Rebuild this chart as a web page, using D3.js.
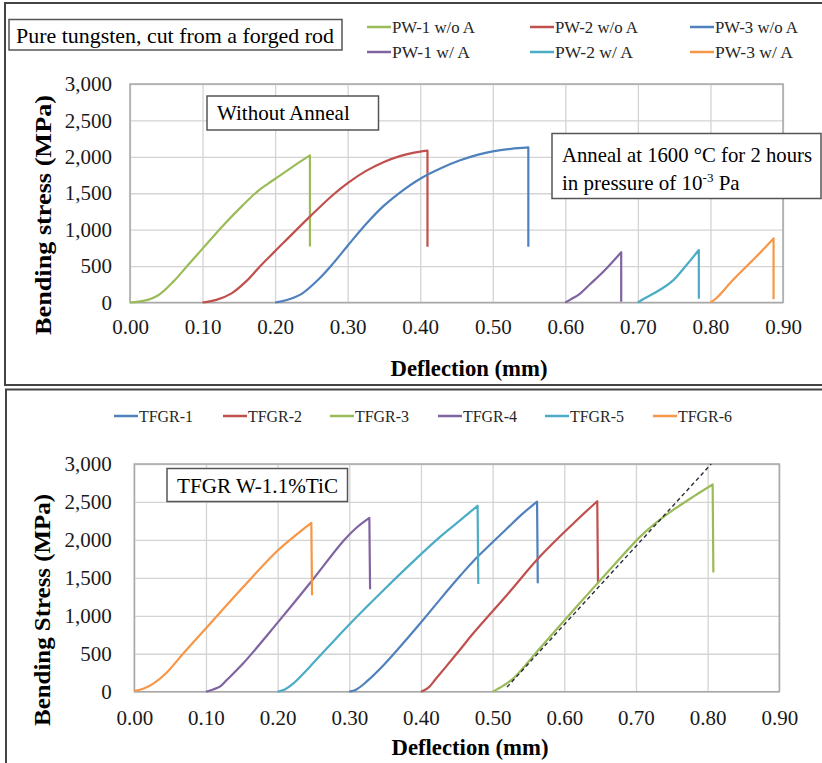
<!DOCTYPE html>
<html>
<head lang="en">
    <meta charset="UTF-8">
    <title>Bending stress vs deflection</title>
    <style>
        body { margin: 0; background: #fff; }
        svg text { font-family: "Liberation Serif", "Times New Roman", serif; }
    </style>
</head>
<body>
<div id="chart"></div>

<script src="https://cdn.jsdelivr.net/npm/d3@7"></script>
<script>
    // ---- data ----
    var xTicks = [0, 0.1, 0.2, 0.3, 0.4, 0.5, 0.6, 0.7, 0.8, 0.9];
    var yTicks = [0, 500, 1000, 1500, 2000, 2500, 3000];

    // top: pure tungsten
    var topNames = ["PW-1 w/o A", "PW-2 w/o A", "PW-3 w/o A", "PW-1 w/ A", "PW-2 w/ A", "PW-3 w/ A"];
    var pw1woDefl   = [0, 0.02, 0.039, 0.06, 0.08, 0.10, 0.131, 0.155, 0.175, 0.19, 0.204, 0.225, 0.248, 0.248];
    var pw1woStress = [0, 25, 100, 290, 514, 740, 1085, 1330, 1520, 1630, 1725, 1870, 2020, 770];
    var pw2woDefl   = [0.10, 0.12, 0.14, 0.16, 0.18, 0.20, 0.25, 0.28, 0.30, 0.326, 0.35, 0.372, 0.39, 0.410, 0.410];
    var pw2woStress = [0, 40, 126, 290, 505, 705, 1200, 1480, 1640, 1810, 1930, 2010, 2055, 2085, 765];
    var pw3woDefl   = [0.20, 0.215, 0.236, 0.26, 0.28, 0.30, 0.326, 0.35, 0.372, 0.40, 0.43, 0.455, 0.48, 0.50, 0.525, 0.549, 0.549];
    var pw3woStress = [0, 30, 115, 320, 537, 780, 1085, 1330, 1510, 1700, 1850, 1952, 2030, 2075, 2110, 2130, 765];
    var pw1wDefl    = [0.60, 0.607, 0.62, 0.634, 0.655, 0.677, 0.677];
    var pw1wStress  = [0, 40, 120, 250, 450, 690, 10];
    var pw2wDefl    = [0.70, 0.707, 0.73, 0.749, 0.765, 0.784, 0.784];
    var pw2wStress  = [0, 44, 171, 308, 490, 720, 50];
    var pw3wDefl    = [0.80, 0.808, 0.831, 0.863, 0.887, 0.887];
    var pw3wStress  = [0, 58, 308, 627, 880, 45];

    // bottom: TFGR W-1.1%TiC
    var botNames = ["TFGR-1", "TFGR-2", "TFGR-3", "TFGR-4", "TFGR-5", "TFGR-6"];
    var tfgr1Defl   = [0.30, 0.31, 0.324, 0.348, 0.399, 0.427, 0.455, 0.473, 0.52, 0.54, 0.562, 0.563];
    var tfgr1Stress = [0, 30, 132, 352, 901, 1220, 1530, 1720, 2150, 2330, 2505, 1430];
    var tfgr2Defl   = [0.40, 0.41, 0.42, 0.435, 0.455, 0.473, 0.52, 0.566, 0.613, 0.646, 0.647];
    var tfgr2Stress = [0, 50, 160, 330, 560, 770, 1275, 1780, 2220, 2510, 1430];
    var tfgr3Defl   = [0.50, 0.515, 0.529, 0.566, 0.613, 0.659, 0.706, 0.73, 0.752, 0.78, 0.807, 0.808];
    var tfgr3Stress = [0, 80, 176, 572, 1077, 1560, 2043, 2240, 2395, 2570, 2730, 1570];
    var tfgr4Defl   = [0.10, 0.11, 0.12, 0.129, 0.152, 0.20, 0.245, 0.292, 0.31, 0.328, 0.329];
    var tfgr4Stress = [0, 30, 70, 154, 374, 910, 1429, 1990, 2160, 2290, 1350];
    var tfgr5Defl   = [0.20, 0.21, 0.222, 0.245, 0.297, 0.348, 0.399, 0.427, 0.455, 0.479, 0.48];
    var tfgr5Stress = [0, 30, 110, 330, 857, 1340, 1802, 2043, 2260, 2450, 1420];
    var tfgr6Defl   = [0, 0.015, 0.027, 0.045, 0.068, 0.10, 0.15, 0.199, 0.225, 0.247, 0.248];
    var tfgr6Stress = [10, 50, 110, 250, 500, 836, 1360, 1850, 2060, 2225, 1270];
    var fitDefl     = [0.52, 0.805];
    var fitStress   = [60, 3000];

    var colors = {
        blue: "#4F81BD", red: "#C0504D", green: "#9BBB59",
        purple: "#8064A2", aqua: "#4BACC6", orange: "#F79646"
    };

    var svg = d3.select("#chart").append("svg")
        .attr("width", 822)
        .attr("height", 763);

    // panel frames
    svg.append("rect").attr("x", 5).attr("y", 3).attr("width", 840).attr("height", 382)
        .attr("fill", "none").attr("stroke", "#444").attr("stroke-width", 2);
    svg.append("rect").attr("x", 6).attr("y", 389.5).attr("width", 840).attr("height", 400)
        .attr("fill", "none").attr("stroke", "#444").attr("stroke-width", 2);

    function drawPanel(p) {
        var x = d3.scaleLinear().domain([0, 0.9]).range([p.left, p.right]);
        var y = d3.scaleLinear().domain([0, 3000]).range([p.bottom, p.top]);
        var g = svg.append("g");

        // grid
        g.append("g").attr("transform", "translate(0," + p.bottom + ")")
            .call(d3.axisBottom(x).tickValues(xTicks).tickSize(-(p.bottom - p.top)).tickFormat(""))
            .call(function(s){ s.select(".domain").remove(); })
            .selectAll("line").attr("stroke", "#d4d4d4").attr("stroke-width", 1.3);
        g.append("g").attr("transform", "translate(" + p.left + ",0)")
            .call(d3.axisLeft(y).tickValues(yTicks).tickSize(-(p.right - p.left)).tickFormat(""))
            .call(function(s){ s.select(".domain").remove(); })
            .selectAll("line").attr("stroke", "#d4d4d4").attr("stroke-width", 1.3);
        g.append("rect").attr("x", p.left).attr("y", p.top)
            .attr("width", p.right - p.left).attr("height", p.bottom - p.top)
            .attr("fill", "none").attr("stroke", "#a8a8a8").attr("stroke-width", 1.5);

        // tick labels
        var xa = g.append("g").attr("transform", "translate(0," + p.bottom + ")")
            .call(d3.axisBottom(x).tickValues(xTicks).tickSize(0).tickPadding(p.xPad).tickFormat(d3.format(".2f")));
        var ya = g.append("g").attr("transform", "translate(" + p.left + ",0)")
            .call(d3.axisLeft(y).tickValues(yTicks).tickSize(0).tickPadding(p.yPad).tickFormat(d3.format(",")));
        [xa, ya].forEach(function(a) {
            a.select(".domain").remove();
            a.selectAll("text").attr("font-family", "Liberation Serif").attr("font-size", 21).attr("fill", "#1a1a1a");
        });

        // axis titles
        g.append("text").attr("x", p.xTitleX).attr("y", p.xTitleY)
            .attr("text-anchor", "middle").attr("font-size", 23).attr("font-weight", "bold")
            .attr("textLength", 157).attr("lengthAdjust", "spacingAndGlyphs")
            .text("Deflection (mm)");
        g.append("text").attr("transform", "translate(" + p.yTitleX + "," + p.yTitleY + ") rotate(-90)")
            .attr("text-anchor", "middle").attr("dy", "0.35em").attr("font-size", 24).attr("font-weight", "bold")
            .attr("textLength", p.yTitleLen).attr("lengthAdjust", "spacingAndGlyphs")
            .text(p.yTitle);

        // series: smooth rise, straight drop at fracture
        var line = d3.line().x(function(d){ return x(d[0]); }).y(function(d){ return y(d[1]); })
            .curve(d3.curveCatmullRom.alpha(0.5));
        p.series.forEach(function(s) {
            var pts = d3.zip(s.defl, s.stress);
            var last = pts[pts.length - 1];
            g.append("path")
                .attr("d", line(pts.slice(0, -1)) + "L" + x(last[0]) + "," + y(last[1]))
                .attr("fill", "none").attr("stroke", s.color).attr("stroke-width", 2.2)
                .attr("stroke-linejoin", "round");
        });
        return {x: x, y: y, g: g};
    }

    function textBox(x0, y0, w, h) {
        svg.append("rect").attr("x", x0).attr("y", y0).attr("width", w).attr("height", h)
            .attr("fill", "#fff").attr("stroke", "#555").attr("stroke-width", 1.5);
    }

    function legendItem(x0, y0, color, label, len) {
        svg.append("line").attr("x1", x0).attr("x2", x0 + 24).attr("y1", y0).attr("y2", y0)
            .attr("stroke", color).attr("stroke-width", 2.5);
        svg.append("text").attr("x", x0 + 25).attr("y", y0).attr("dy", "0.35em")
            .attr("font-size", 16).attr("fill", "#262626")
            .attr("textLength", len).attr("lengthAdjust", "spacingAndGlyphs")
            .text(label);
    }

    // ---- top panel ----
    drawPanel({
        left: 130, right: 783, top: 84, bottom: 302.5,
        xPad: 17, yPad: 18, xTitleX: 469, xTitleY: 376,
        yTitleX: 43, yTitleY: 215, yTitleLen: 240, yTitle: "Bending stress (MPa)",
        series: [
            {defl: pw1woDefl, stress: pw1woStress, color: colors.green},
            {defl: pw2woDefl, stress: pw2woStress, color: colors.red},
            {defl: pw3woDefl, stress: pw3woStress, color: colors.blue},
            {defl: pw1wDefl, stress: pw1wStress, color: colors.purple},
            {defl: pw2wDefl, stress: pw2wStress, color: colors.aqua},
            {defl: pw3wDefl, stress: pw3wStress, color: colors.orange}
        ]
    });

    var topColors = [colors.green, colors.red, colors.blue, colors.purple, colors.aqua, colors.orange];
    var topLegX = [367, 530, 690];
    topNames.forEach(function(n, i) {
        legendItem(topLegX[i % 3], i < 3 ? 27 : 52, topColors[i], n, i < 3 ? 83 : 78);
    });

    textBox(9, 19.5, 333, 30.5);
    svg.append("text").attr("x", 16).attr("y", 42.5).attr("font-size", 21)
        .attr("textLength", 318).attr("lengthAdjust", "spacingAndGlyphs")
        .text("Pure tungsten, cut from a forged rod");

    textBox(207, 96, 171.5, 34);
    svg.append("text").attr("x", 217).attr("y", 120).attr("font-size", 21)
        .text("Without Anneal");

    textBox(552, 133.5, 269, 65);
    svg.append("text").attr("x", 562).attr("y", 162).attr("font-size", 21)
        .attr("textLength", 250).attr("lengthAdjust", "spacingAndGlyphs")
        .text("Anneal at 1600 \u00B0C for 2 hours");
    var l2 = svg.append("text").attr("x", 562).attr("y", 189.5).attr("font-size", 21);
    l2.append("tspan").text("in pressure of 10");
    l2.append("tspan").attr("dy", -8).attr("font-size", 13).text("-3");
    l2.append("tspan").attr("dy", 8).text(" Pa");

    // ---- bottom panel ----
    var bot = drawPanel({
        left: 134.3, right: 779.3, top: 464, bottom: 691.7,
        xPad: 18, yPad: 22.5, xTitleX: 470, xTitleY: 755,
        yTitleX: 42, yTitleY: 610, yTitleLen: 232, yTitle: "Bending Stress (MPa)",
        series: [
            {defl: tfgr1Defl, stress: tfgr1Stress, color: colors.blue},
            {defl: tfgr2Defl, stress: tfgr2Stress, color: colors.red},
            {defl: tfgr3Defl, stress: tfgr3Stress, color: colors.green},
            {defl: tfgr4Defl, stress: tfgr4Stress, color: colors.purple},
            {defl: tfgr5Defl, stress: tfgr5Stress, color: colors.aqua},
            {defl: tfgr6Defl, stress: tfgr6Stress, color: colors.orange}
        ]
    });

    // linear fit line on TFGR-3
    bot.g.append("path")
        .attr("d", d3.line().x(function(d){ return bot.x(d[0]); }).y(function(d){ return bot.y(d[1]); })(d3.zip(fitDefl, fitStress)))
        .attr("fill", "none").attr("stroke", "#2b2b3a").attr("stroke-width", 1.4)
        .attr("stroke-dasharray", "4,3");

    var botColors = [colors.blue, colors.red, colors.green, colors.purple, colors.aqua, colors.orange];
    var botLegX = [114, 223, 330, 438, 545, 653];
    botNames.forEach(function(n, i) {
        legendItem(botLegX[i], 416, botColors[i], n, 54);
    });

    textBox(167, 468.5, 180.5, 33);
    svg.append("text").attr("x", 177).attr("y", 493).attr("font-size", 21)
        .attr("textLength", 161).attr("lengthAdjust", "spacingAndGlyphs")
        .text("TFGR W-1.1%TiC");
</script>
</body>
</html>
